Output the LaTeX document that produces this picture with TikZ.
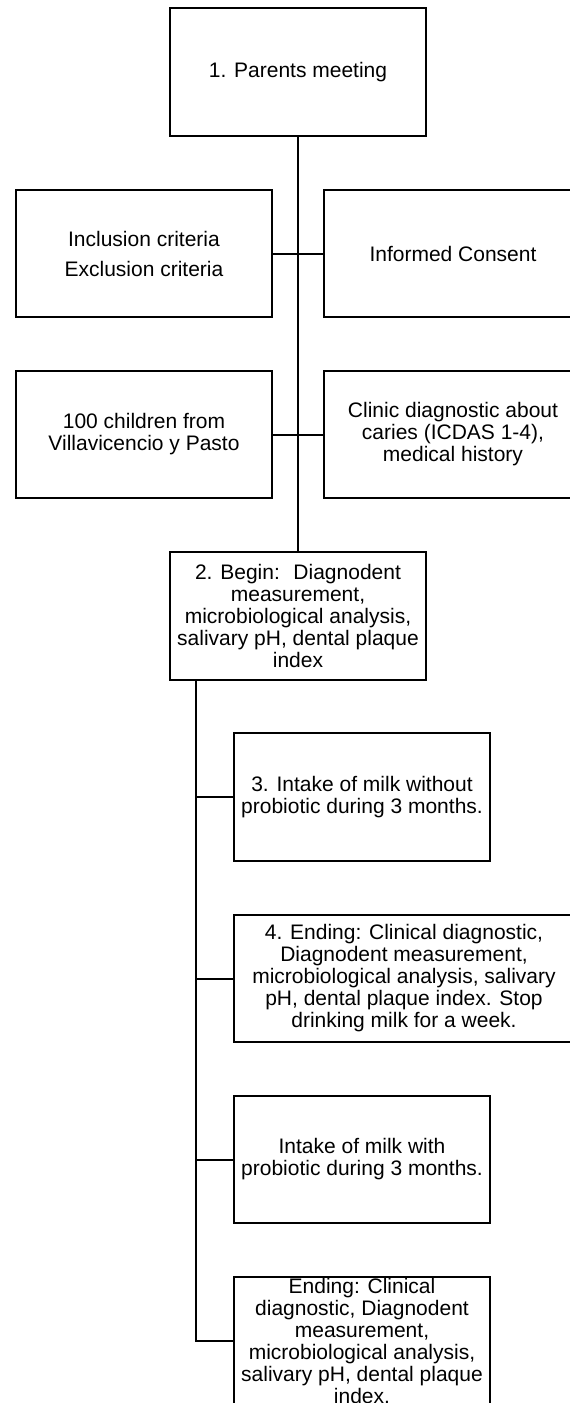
\documentclass[tikz,border=0pt]{standalone}
\usepackage{fontspec}
\setmainfont{Liberation Sans}
\usetikzlibrary{calc}
\begin{document}
\begin{tikzpicture}[x=1pt,y=-1pt,
  box/.style={draw, line width=2pt, fill=white, inner sep=0pt, align=center,
    font=\fontsize{21}{22}\selectfont, minimum width=256pt, minimum height=128pt},
  txt/.style={inner sep=0pt, align=center, font=\fontsize{21}{22}\selectfont},
  link/.style={line width=2pt}]
\useasboundingbox (0,0) rectangle (570,1403);
\fill[white] (0,0) rectangle (570,1403);
% boxes
\node[box] (b1) at (298,72) {1. Parents meeting};
\node[box, minimum height=127pt] (incl) at (144,253.5) {Inclusion criteria\\[8pt]Exclusion criteria};
\node[box, minimum width=258pt, minimum height=127pt] (cons) at (453,253.5) {Informed Consent};
\node[box, minimum height=127pt] (kids) at (144,434.5) {100 children from\\Villavicencio y Pasto};
\node[box, minimum width=258pt, minimum height=127pt] (clin) at (453,434.5) {Clinic diagnostic about\\caries (ICDAS 1-4),\\medical history};
\node[box] (b2) at (298,616) {2. Begin:~ Diagnodent\\measurement,\\microbiological analysis,\\salivary pH, dental plaque\\index};
\node[box] (b3) at (362,797) {3. Intake of milk without\\probiotic during 3 months.};
\node[box, minimum width=340pt, minimum height=127pt] (b4) at (404,978.5) {4. Ending: Clinical diagnostic,\\Diagnodent measurement,\\microbiological analysis, salivary\\pH, dental plaque index. Stop\\drinking milk for a week.};
\node[box, minimum height=127pt] (b5) at (362,1159.5) {Intake of milk with\\probiotic during 3 months.};
\node[box] (b6) at (362,1341) {};
\node[txt] (b6t) at (b6.center) {Ending: Clinical\\diagnostic, Diagnodent\\measurement,\\microbiological analysis,\\salivary pH, dental plaque\\index.};
% connectors
\draw[link] (b1.south) -- (b2.north);
\draw[link] (incl.east) -- (cons.west);
\draw[link] (kids.east) -- (clin.west);
\coordinate (t2) at ($(b2.south west)+(27,0)$);
\draw[link] (t2) |- (b6.west);
\draw[link] (t2 |- b3.west) -- (b3.west);
\draw[link] (t2 |- b4.west) -- (b4.west);
\draw[link] (t2 |- b5.west) -- (b5.west);
\end{tikzpicture}
\end{document}
